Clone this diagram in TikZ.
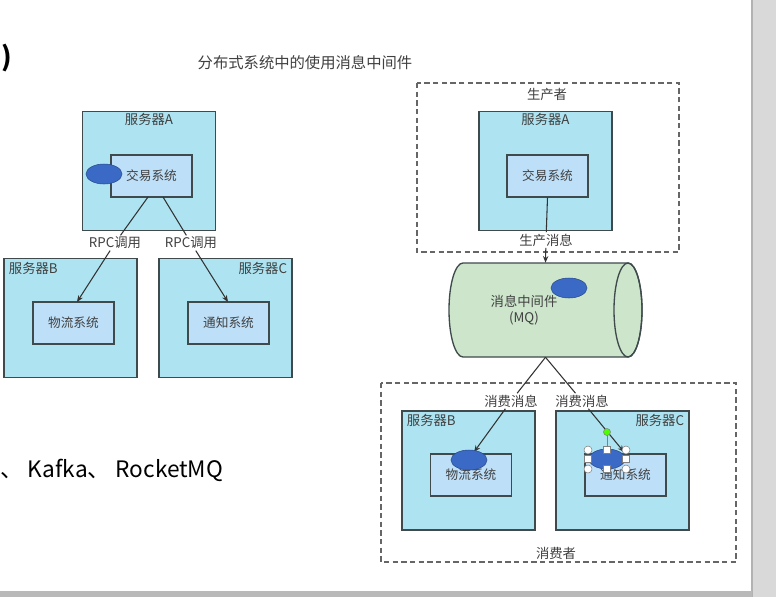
\documentclass[tikz,border=0pt]{standalone}
\usepackage{fontspec}
\setmainfont{Noto Sans CJK SC}
\usetikzlibrary{arrows.meta,shapes.geometric}

\definecolor{srvfill}{HTML}{AEE4F1}
\definecolor{sysfill}{HTML}{BEDFF8}
\definecolor{mqfill}{HTML}{CCE5CB}
\definecolor{dotblue}{HTML}{3A6AC6}
\definecolor{edgegray}{HTML}{3F4A4C}
\definecolor{txtgray}{HTML}{404040}

\tikzset{
  server/.style={draw=edgegray, fill=srvfill, line width=1pt, minimum width=99.75pt, minimum height=89.25pt, inner sep=0pt},
  sysbox/.style={draw=edgegray, fill=sysfill, line width=1pt, minimum width=60.75pt, minimum height=31.5pt, font=\fontsize{9.5}{11}\selectfont, text=txtgray},
  lbl/.style={font=\fontsize{10}{12}\selectfont, text=txtgray, inner sep=1pt},
  msgdot/.style={ellipse, draw=dotblue!70!black, fill=dotblue, minimum width=27pt, minimum height=15pt, inner sep=0pt},
  call/.style={draw=black!80, line width=0.8pt},
  callarrow/.style={call, -{Stealth[length=5pt,width=4pt]}},
  groupbox/.style={draw=black!60, line width=0.9pt, dash pattern=on 4pt off 2.5pt},
}

\begin{document}
\begin{tikzpicture}[x=0.75pt,y=-0.75pt]
\fill[white] (0,0) rectangle (776,597);
\useasboundingbox (0,0) rectangle (776,597);

% window frame
\fill[gray!30] (752,0) rectangle (776,597);
\draw[gray!60, line width=1.5pt] (752,0) -- (752,597);
\fill[gray!55] (0,591) rectangle (752,597);

% page text
\node[font=\bfseries\fontsize{20}{22}\selectfont] (paren) at (7,58) {)};
\node[font=\fontsize{11.5}{13}\selectfont, text=txtgray] (title) at (305,63) {分布式系统中的使用消息中间件};
\node[anchor=west, font=\fontsize{17}{20}\selectfont, inner sep=0pt] (mqlist) at (0,470) {、 Kafka、 RocketMQ};

% ---- left: direct RPC calls ----
\node[server] (srvA) at (149,171) {};
\node[lbl, below] (srvAlbl) at ([yshift=-1pt]srvA.north) {服务器A};
\node[sysbox] (tradeA) at (151.5,176) {交易系统};
\node[msgdot] (dotA) at (104,174) {};

\node[server] (srvB) at (70.5,318) {};
\node[lbl, anchor=north west] (srvBlbl) at ([xshift=3pt,yshift=-2pt]srvB.north west) {服务器B};
\node[sysbox] (logiB) at (73.5,323) {物流系统};

\node[server] (srvC) at (225.5,318) {};
\node[lbl, anchor=north east] (srvClbl) at ([xshift=-3pt,yshift=-2pt]srvC.north east) {服务器C};
\node[sysbox] (notiC) at (228.5,323) {通知系统};

\node[lbl] (rpcB) at (115,243) {RPC调用};
\node[lbl] (rpcC) at (191,243) {RPC调用};

\coordinate (outB) at (148,197);
\coordinate (outC) at (163,197);
\coordinate (inB) at (77,302);
\coordinate (inC) at (228,302);
\draw[call] (outB) -- (rpcB);
\draw[callarrow] (rpcB) -- (inB);        % call to logistics
\draw[call] (outC) -- (rpcC);
\draw[callarrow] (rpcC) -- (inC);        % call to notification

% ---- right: through the message queue ----
\draw[groupbox] (417,83) rectangle (679,252);
\node[lbl] (prodlbl) at (547,94) {生产者};

\node[server] (srvA2) at (545.5,171) {};
\node[lbl, below] (srvA2lbl) at ([yshift=-1pt]srvA2.north) {服务器A};
\node[sysbox] (tradeA2) at (547.5,176) {交易系统};

% the queue drawn as a lying cylinder
\node[minimum width=144.75pt, minimum height=70.5pt, inner sep=0pt] (mq) at (545.5,310) {};
\filldraw[draw=edgegray, fill=mqfill, line width=1pt]
  (628,263) -- (463,263) arc[start angle=270, end angle=90, x radius=14, y radius=47]
  -- (628,357) arc[start angle=90, end angle=-90, x radius=14, y radius=47] -- cycle;
\draw[edgegray, line width=1pt] (628,310) ellipse[x radius=14, y radius=47];
\node[lbl, align=center] (mqlbl) at (524,310) {消息中间件\\(MQ)};
\node[msgdot] (dotmq) at (569,288) {};

\node[lbl, fill=white] (prodmsg) at (546,240) {生产消息};
\draw[call] (tradeA2.south) -- (prodmsg);
\draw[callarrow] (prodmsg) -- (mq.north);   % produce

\draw[groupbox] (381,383) rectangle (736,562);
\node[lbl] (conslbl) at (556,553) {消费者};

\node[server] (srvB2) at (468.5,470.5) {};
\node[lbl, anchor=north west] (srvB2lbl) at ([xshift=3pt,yshift=-2pt]srvB2.north west) {服务器B};
\node[sysbox] (logiB2) at (471,475) {物流系统};

\node[server] (srvC2) at (622.5,470.5) {};
\node[lbl, anchor=north east] (srvC2lbl) at ([xshift=-3pt,yshift=-2pt]srvC2.north east) {服务器C};
\node[sysbox] (notiC2) at (625.5,475) {通知系统};

\node[lbl] (consB) at (511,401) {消费消息};
\node[lbl] (consC) at (582,401) {消费消息};
\coordinate (inB2) at (474,452);
\coordinate (inC2) at (624,452);
\draw[call] (mq.south) -- (consB);
\draw[callarrow] (consB) -- (inB2);      % consume
\draw[call] (mq.south) -- (consC);
\draw[callarrow] (consC) -- (inC2);      % consume

\node[msgdot] (dotB2) at (469,460) {};
\node[msgdot] (dotC2) at (607,459) {};

% selection handles
\draw[gray, line width=0.4pt] (607,450) -- (607,432);
\filldraw[draw=gray, fill=green!70!yellow] (607,432) circle (3.5);
\foreach \hx/\hy in {588/450, 626/450, 588/469, 626/469}
  \filldraw[draw=gray, fill=white, line width=0.4pt] (\hx,\hy) circle (4);
\foreach \hx/\hy in {607/450, 588/459, 626/459, 607/469}
  \filldraw[draw=gray, fill=white, line width=0.4pt] (\hx-3.5,\hy-3.5) rectangle (\hx+3.5,\hy+3.5);

\end{tikzpicture}
\end{document}
